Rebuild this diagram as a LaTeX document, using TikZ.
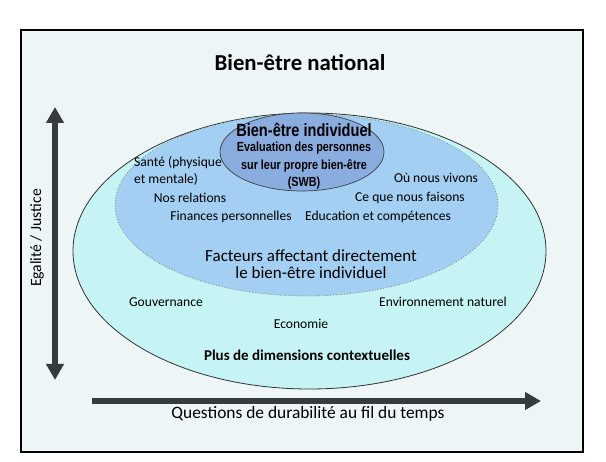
\documentclass[tikz,border=0pt]{standalone}
\usepackage{fontspec}
\setmainfont{Carlito}
\newfontfamily\narrowfont[FakeStretch=0.82]{Liberation Sans}
\usepackage{tikz}
\usetikzlibrary{positioning, arrows.meta}

\definecolor{framebg}{HTML}{EDF5F7}
\definecolor{outerfill}{HTML}{C6F4F5}
\definecolor{midfill}{HTML}{A3CFF3}
\definecolor{innerfill}{HTML}{8AADE0}
\definecolor{arrowgray}{HTML}{353B3F}

\begin{document}
\begin{tikzpicture}[x=1pt, y=-1pt,
    label/.style={font=\fontsize{13.6}{15}\selectfont, inner sep=0pt},
    biglabel/.style={font=\fontsize{17}{17}\selectfont, align=center, inner sep=0pt},
    swblabel/.style={font=\narrowfont\bfseries\fontsize{13.2}{17.5}\selectfont, align=center, inner sep=0pt},
    bigarrow/.style={line width=5.5pt, draw=arrowgray, -{Triangle[length=16pt, width=17pt]}}]
        \useasboundingbox (0,0) rectangle (606,462);

        % Frame
        \node[draw, line width=2pt, fill=framebg, minimum width=562pt, minimum height=422pt, inner sep=0pt] (frame) at (302,241) {};
        \node[font=\bfseries\fontsize{22.8}{26}\selectfont] (title) at (300,63) {Bien-être national};

        % Ellipses
        \draw[fill=outerfill, draw=black!80, line width=0.8pt] (309.5,251) ellipse [x radius=236.5, y radius=138];
        \draw[fill=midfill, draw=gray, dotted, line width=0.8pt] (306.5,205) ellipse [x radius=191.5, y radius=91];
        \draw[fill=innerfill, draw=black!75, line width=0.7pt] (302,152) ellipse [x radius=82, y radius=39];

        % Individual well-being
        \node[font=\narrowfont\bfseries\fontsize{17.8}{18}\selectfont, inner sep=0pt] (indiv) at (304,130) {Bien-être individuel};
        \node[swblabel] (swb) at (304,166) {Evaluation des personnes\\sur leur propre bien-être\\(SWB)};

        % Direct factors
        \node[label, align=left, font=\fontsize{13.6}{17}\selectfont] (sante) at (178,171) {Santé (physique\\et mentale)};
        \node[label] (relations) at (190,198) {Nos relations};
        \node[label] (finances) at (231,217) {Finances personnelles};
        \node[label] (vivons) at (436,178) {Où nous vivons};
        \node[label] (faisons) at (410,198) {Ce que nous faisons};
        \node[label] (education) at (378,217) {Education et compétences};
        \node[biglabel] (facteurs) at (311,264) {Facteurs affectant directement\\le bien-être individuel};

        % Contextual dimensions
        \node[label] (gouv) at (166,302) {Gouvernance};
        \node[label] (env) at (443,302) {Environnement naturel};
        \node[label] (eco) at (301,324) {Economie};
        \node[label, font=\bfseries\fontsize{15}{17}\selectfont] (context) at (307,355) {Plus de dimensions contextuelles};

        % Axes
        \coordinate (vtop) at (55,107);
        \coordinate (vbot) at (55,380);
        \draw[bigarrow, {Triangle[length=16pt, width=17pt]}-{Triangle[length=16pt, width=17pt]}] (vbot) -- (vtop);
        \node[rotate=90, font=\fontsize{15.7}{17}\selectfont] (egalite) at (37,238) {Egalité / Justice};
        \coordinate (hstart) at (92,401);
        \coordinate (hend) at (541,401);
        \draw[bigarrow] (hstart) -- (hend);
        \node[font=\fontsize{17.4}{19}\selectfont] (durabilite) at (308,414) {Questions de durabilité au fil du temps};
\end{tikzpicture}
\end{document}
